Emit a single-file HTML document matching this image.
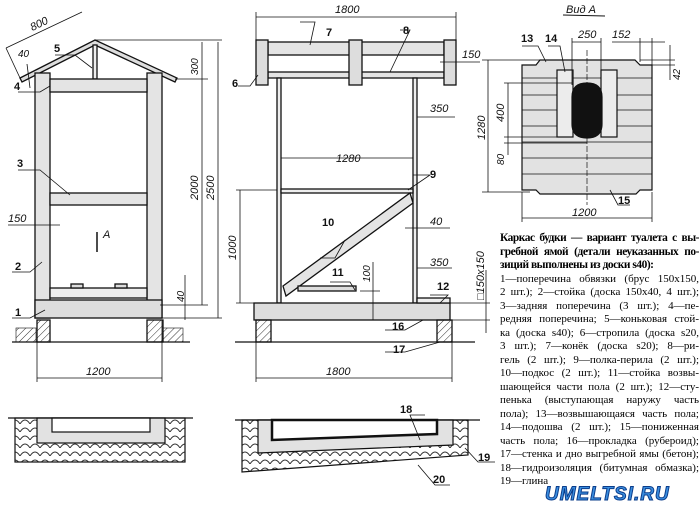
<!DOCTYPE html>
<html><head><meta charset="utf-8"><style>
body{margin:0;background:#fff;width:700px;height:513px;overflow:hidden;position:relative;font-family:"Liberation Sans",sans-serif}
svg{position:absolute;left:0;top:0}
.cap{position:absolute;left:500px;top:232px;width:199px;font-family:"Liberation Serif","DejaVu Serif",serif;font-size:11px;line-height:13.5px;color:#000}
.cap div{text-align:justify;text-align-last:justify;white-space:nowrap;height:13.5px;overflow:visible}
.cap div.l{text-align-last:left}
.cap b{letter-spacing:-0.45px;font-size:11.4px}
.wm{position:absolute;left:545px;top:484px;font:bold italic 19px "Liberation Sans",sans-serif;color:#3a8ee0;letter-spacing:1px;-webkit-text-stroke:1px #0b3c8a}
</style></head><body>
<svg width="700" height="513" viewBox="0 0 700 513" font-family="Liberation Sans, sans-serif" stroke="#111" fill="none">
<defs>
<pattern id="h" width="5" height="5" patternUnits="userSpaceOnUse" patternTransform="rotate(45)"><line x1="0" y1="0" x2="0" y2="5" stroke="#333" stroke-width="1"/></pattern>
<pattern id="s" width="10" height="8" patternUnits="userSpaceOnUse"><path d="M0 8 Q5 0 10 8" stroke="#333" stroke-width="1" fill="none"/></pattern>
</defs>
<!-- LEFT VIEW -->
<g stroke-width="1.3">
<polygon points="20,78 95,40 177,78 175,82 95,45 22,82" fill="#ddd"/>
<rect x="93" y="45" width="4" height="34" fill="#eee"/>
<rect x="35" y="73" width="15" height="245" fill="#e4e4e4"/>
<rect x="147" y="73" width="15" height="245" fill="#e4e4e4"/>
<rect x="50" y="79" width="97" height="13" fill="#e4e4e4"/>
<rect x="50" y="193" width="97" height="12" fill="#e4e4e4"/>
<rect x="50" y="288" width="97" height="10" fill="#eee"/>
<rect x="35" y="300" width="127" height="18" fill="#ddd"/>
<rect x="71" y="284" width="12" height="4" fill="#ddd"/>
<rect x="115" y="284" width="12" height="4" fill="#ddd"/>
<rect x="37" y="320" width="13" height="22" fill="url(#h)"/>
<rect x="147" y="320" width="16" height="22" fill="url(#h)"/>
<rect x="16" y="328" width="20" height="14" fill="url(#h)" stroke-width="0.6"/>
<rect x="163" y="328" width="20" height="14" fill="url(#h)" stroke-width="0.6"/>
<line x1="12" y1="342" x2="190" y2="342"/>
</g>
<g stroke-width="0.8">
<line x1="37" y1="320" x2="37" y2="382"/><line x1="162" y1="320" x2="162" y2="382"/>
<line x1="37" y1="378" x2="162" y2="378"/>
<line x1="218" y1="42" x2="218" y2="318"/><line x1="202" y1="42" x2="202" y2="305"/>
<line x1="95" y1="40" x2="222" y2="40"/><line x1="175" y1="79" x2="208" y2="79"/><line x1="160" y1="305" x2="208" y2="305"/><line x1="160" y1="318" x2="222" y2="318"/>
<line x1="185" y1="275" x2="185" y2="320"/>
<line x1="6" y1="48" x2="82" y2="12"/><line x1="20" y1="78" x2="6" y2="48"/>
<line x1="27" y1="64" x2="30" y2="88"/>
<line x1="8" y1="225" x2="60" y2="225"/>
<line x1="97" y1="232" x2="97" y2="252" stroke-width="1.5"/>
<polyline points="18,92 40,92 50,86"/><polyline points="18,170 40,170 70,195"/><polyline points="12,272 30,272 42,262"/><polyline points="12,318 30,318 45,310"/><polyline points="55,55 75,55 92,68"/>
</g>
<g fill="#111" stroke="none" font-size="11">
<text x="30" y="27" transform="rotate(-26 40 24)" font-style="italic">800</text>
<text x="18" y="57" font-style="italic" font-size="10">40</text>
<text x="54" y="52" font-weight="bold">5</text><text x="14" y="90" font-weight="bold">4</text>
<text x="17" y="167" font-weight="bold">3</text><text x="8" y="222" font-style="italic">150</text>
<text x="15" y="270" font-weight="bold">2</text><text x="15" y="316" font-weight="bold">1</text>
<text x="103" y="238" font-style="italic">A</text>
<text x="86" y="375" font-style="italic">1200</text>
<text transform="translate(198,75) rotate(-90)" font-style="italic" font-size="10">300</text>
<text transform="translate(198,200) rotate(-90)" font-style="italic">2000</text>
<text transform="translate(214,200) rotate(-90)" font-style="italic">2500</text>
<text transform="translate(184,302) rotate(-90)" font-style="italic" font-size="10">40</text>
</g>
<!-- MIDDLE VIEW -->
<g stroke-width="1.3">
<rect x="268" y="42" width="176" height="13" fill="#e4e4e4"/>
<rect x="268" y="72" width="176" height="6" fill="#e4e4e4"/>
<rect x="256" y="40" width="12" height="45" fill="#ddd"/>
<rect x="349" y="40" width="13" height="45" fill="#ddd"/>
<rect x="444" y="40" width="12" height="45" fill="#ddd"/>
<rect x="277" y="78" width="4" height="225" fill="#eee"/>
<rect x="413" y="78" width="4" height="225" fill="#eee"/>
<rect x="281" y="189" width="132" height="4" fill="#eee"/>
<polygon points="283,286 410,193 413,203 286,296" fill="#e4e4e4"/>
<rect x="298" y="286" width="58" height="5" fill="#ddd"/>
<rect x="254" y="303" width="196" height="17" fill="#ddd"/>
<rect x="417" y="298" width="33" height="5" fill="#eee"/>
<rect x="256" y="320" width="15" height="22" fill="url(#h)"/>
<rect x="437" y="320" width="15" height="22" fill="url(#h)"/>
<line x1="235" y1="342" x2="475" y2="342"/>
</g>
<g stroke-width="0.8">
<line x1="256" y1="17" x2="456" y2="17"/><line x1="256" y1="12" x2="256" y2="40"/><line x1="456" y1="12" x2="456" y2="40"/>
<line x1="256" y1="378" x2="452" y2="378"/><line x1="256" y1="342" x2="256" y2="382"/><line x1="452" y1="342" x2="452" y2="382"/>
<line x1="281" y1="158" x2="413" y2="158"/>
<line x1="240" y1="190" x2="240" y2="303"/><line x1="236" y1="190" x2="277" y2="190"/><line x1="236" y1="303" x2="256" y2="303"/>
<line x1="417" y1="117" x2="455" y2="117"/><line x1="405" y1="228" x2="450" y2="228"/><line x1="417" y1="268" x2="452" y2="268"/>
<line x1="440" y1="62" x2="480" y2="62"/>
<line x1="373" y1="262" x2="373" y2="320"/><line x1="360" y1="291" x2="380" y2="291"/>
<line x1="486" y1="270" x2="486" y2="333"/><line x1="450" y1="303" x2="490" y2="303"/><line x1="450" y1="320" x2="490" y2="320"/>
<polyline points="300,22 315,22 310,45"/><polyline points="400,30 410,30 390,72"/><polyline points="238,86 250,86 258,75"/><polyline points="413,175 430,175 408,190"/><polyline points="320,258 335,258 345,240"/><polyline points="330,282 350,282 355,290"/><polyline points="430,295 448,295 440,303"/><polyline points="385,330 405,330 423,320"/><polyline points="385,352 405,352 440,342"/>
</g>
<g fill="#111" stroke="none" font-size="11">
<text x="335" y="13" font-style="italic">1800</text><text x="326" y="375" font-style="italic">1800</text>
<text x="326" y="36" font-weight="bold">7</text><text x="403" y="34" font-weight="bold">8</text><text x="232" y="87" font-weight="bold">6</text>
<text x="462" y="58" font-style="italic">150</text><text x="430" y="112" font-style="italic">350</text>
<text x="336" y="162" font-style="italic">1280</text><text x="430" y="178" font-weight="bold">9</text>
<text x="322" y="226" font-weight="bold">10</text><text x="430" y="225" font-style="italic">40</text>
<text x="430" y="266" font-style="italic">350</text><text x="332" y="276" font-weight="bold">11</text>
<text x="437" y="290" font-weight="bold">12</text><text x="392" y="330" font-weight="bold">16</text><text x="393" y="353" font-weight="bold">17</text>
<text transform="translate(236,260) rotate(-90)" font-style="italic">1000</text>
<text transform="translate(370,282) rotate(-90)" font-style="italic" font-size="10">100</text>
<text transform="translate(484,300) rotate(-90)" font-style="italic">□150x150</text>
</g>
<!-- VIEW A -->
<g stroke-width="1.2">
<polygon points="522,65 536,65 540,60 635,60 640,65 652,65 652,190 640,190 636,194 540,194 536,190 522,190" fill="#e2e2e2"/>
<g stroke-width="0.7"><line x1="522" y1="78" x2="652" y2="78"/><line x1="522" y1="95" x2="652" y2="95"/><line x1="522" y1="110" x2="652" y2="110"/><line x1="522" y1="126" x2="652" y2="126"/><line x1="522" y1="142" x2="652" y2="142"/><line x1="522" y1="158" x2="652" y2="158"/><line x1="522" y1="174" x2="652" y2="174"/><line x1="587" y1="50" x2="587" y2="205" stroke-dasharray="6,2"/></g>
<rect x="557" y="70" width="16" height="67" fill="#ececec"/>
<rect x="601" y="70" width="16" height="67" fill="#ececec"/>
<path d="M572 97 Q572 83 587 83 Q602 83 602 97 L602 124 Q602 138 587 138 Q572 138 572 124 Z" fill="#111"/>
</g>
<g stroke-width="0.8">
<line x1="572" y1="42" x2="601" y2="42"/><line x1="572" y1="38" x2="572" y2="85"/><line x1="601" y1="38" x2="601" y2="85"/>
<line x1="612" y1="42" x2="665" y2="42"/><line x1="640" y1="38" x2="640" y2="62"/><line x1="652" y1="38" x2="652" y2="65"/>
<line x1="670" y1="45" x2="670" y2="80"/><line x1="640" y1="60" x2="675" y2="60"/><line x1="652" y1="65" x2="675" y2="65"/>
<line x1="522" y1="218" x2="652" y2="218"/><line x1="522" y1="192" x2="522" y2="222"/><line x1="652" y1="192" x2="652" y2="222"/>
<line x1="488" y1="60" x2="488" y2="192"/><line x1="482" y1="60" x2="540" y2="60"/><line x1="482" y1="192" x2="530" y2="192"/>
<line x1="508" y1="83" x2="508" y2="155"/><line x1="504" y1="83" x2="572" y2="83"/><line x1="504" y1="137" x2="572" y2="137"/><line x1="504" y1="143" x2="587" y2="143"/>
<line x1="563" y1="15" x2="605" y2="16" stroke-width="1"/>
<polyline points="522,46 538,46 546,62"/><polyline points="548,46 560,46 565,72"/><polyline points="630,205 618,205 610,190"/>
</g>
<g fill="#111" stroke="none" font-size="11">
<text x="566" y="13" font-style="italic">Вид А</text>
<text x="521" y="42" font-weight="bold">13</text><text x="545" y="42" font-weight="bold">14</text>
<text x="578" y="38" font-style="italic">250</text><text x="612" y="38" font-style="italic">152</text>
<text x="618" y="204" font-weight="bold">15</text><text x="572" y="216" font-style="italic">1200</text>
<text transform="translate(680,80) rotate(-90)" font-style="italic" font-size="10">42</text>
<text transform="translate(485,140) rotate(-90)" font-style="italic">1280</text>
<text transform="translate(504,122) rotate(-90)" font-style="italic">400</text>
<text transform="translate(504,165) rotate(-90)" font-style="italic" font-size="10">80</text>
</g>
<!-- BOTTOM SECTIONS -->
<g stroke-width="1.2">
<rect x="15" y="418" width="170" height="44" fill="url(#s)"/>
<rect x="37" y="418" width="128" height="25" fill="#e2e2e2"/>
<rect x="52" y="418" width="98" height="14" fill="#fff"/>
<line x1="8" y1="418" x2="193" y2="418"/>
<polygon points="242,420 468,420 468,455 242,472" fill="url(#s)"/>
<polygon points="258,420 453,420 453,445 258,453" fill="#e2e2e2"/>
<polygon points="272,420 437,420 437,434 272,440" fill="#fff" stroke-width="2.5"/>
<line x1="235" y1="420" x2="480" y2="420"/>
</g>
<g stroke-width="0.8"><polyline points="425,415 410,415 420,440"/><polyline points="495,462 478,462 465,448"/><polyline points="450,485 435,485 418,465"/></g>
<g fill="#111" stroke="none" font-size="11" font-weight="bold">
<text x="400" y="413">18</text><text x="478" y="461">19</text><text x="433" y="483">20</text>
</g>
</svg>
<div class="cap">
<div style="white-space:normal"><b>Каркас будки — вариант туалета с вы-</b></div>
<div style="white-space:normal"><b>гребной ямой (детали неуказанных по-</b></div>
<div class="l"><b>зиций выполнены из доски s40):</b></div>
<div style="white-space:normal">1—поперечина обвязки (брус 150х150,</div>
<div style="white-space:normal">2 шт.); 2—стойка (доска 150х40, 4 шт.);</div>
<div style="white-space:normal">3—задняя поперечина (3 шт.); 4—пе-</div>
<div style="white-space:normal">редняя поперечина; 5—коньковая стой-</div>
<div style="white-space:normal">ка (доска s40); 6—стропила (доска s20,</div>
<div style="white-space:normal">3 шт.); 7—конёк (доска s20); 8—ри-</div>
<div style="white-space:normal">гель (2 шт.); 9—полка-перила (2 шт.);</div>
<div style="white-space:normal">10—подкос (2 шт.); 11—стойка возвы-</div>
<div style="white-space:normal">шающейся части пола (2 шт.); 12—сту-</div>
<div style="white-space:normal">пенька (выступающая наружу часть</div>
<div style="white-space:normal">пола); 13—возвышающаяся часть пола;</div>
<div style="white-space:normal">14—подошва (2 шт.); 15—пониженная</div>
<div style="white-space:normal">часть пола; 16—прокладка (рубероид);</div>
<div style="white-space:normal">17—стенка и дно выгребной ямы (бетон);</div>
<div style="white-space:normal">18—гидроизоляция (битумная обмазка);</div>
<div class="l">19—глина</div>
</div>
<div class="wm">UMELTSI.RU</div>
</body></html>
